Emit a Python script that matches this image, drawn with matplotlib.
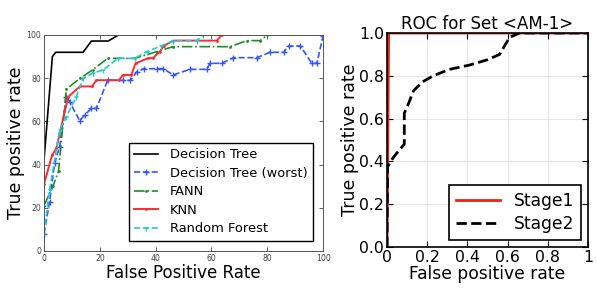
import matplotlib.pyplot as plt
import numpy as np

# left panel: ROC curves of several classifiers (percent)
dt_x = [0, 3, 4.2, 14, 17, 23, 26.7, 100]
dt_y = [42, 90, 92, 92, 97.2, 97.2, 100, 100]

dtw_x = [0, 2, 3.8, 5.6, 8, 9.2, 12.8, 14.6, 17, 18.8, 22.8, 28.4, 31, 33.3, 35.7,
         40.5, 42.8, 46.3, 52.3, 58.3, 59.5, 63.7, 67.9, 76.3, 81, 85.9, 87.7, 91.9,
         96, 97.8, 100]
dtw_y = [8, 22.8, 40.6, 48.3, 71.4, 69, 60.3, 63, 66, 66, 79, 79, 79, 83, 84.4,
         84.4, 84.4, 81.5, 84.1, 84.1, 86.9, 86.9, 89.5, 89.5, 92, 92, 94.9, 94.9,
         86.9, 86.9, 99.5]

fann_x = [0, 3.2, 5.2, 8, 13, 17.6, 22.8, 32.5, 40.4, 46.3, 66.7, 72.7, 77.5, 80, 100]
fann_y = [21, 30, 37, 75, 80, 84, 89.2, 89.2, 92.3, 94.6, 94.6, 97.4, 97.4, 100, 100]

knn_x = [0, 2.9, 4.4, 8.7, 12.9, 17.2, 18.8, 26.9, 28.3, 31.3, 32.8, 37.4, 39, 41.4,
         43, 46.4, 62, 63.7, 100]
knn_y = [31, 44.4, 47.5, 71.4, 76.2, 76.2, 79.1, 79.1, 81.5, 81.5, 86.9, 89.3,
         89.3, 92.2, 95, 97.4, 97.4, 100, 100]

rf_x = [0, 2, 5.6, 8, 11.6, 14, 17.6, 21.2, 26.5, 32.5, 36.8, 41.8, 46.3, 54.7, 57.1, 100]
rf_y = [8, 28.2, 56, 62.2, 71.5, 80, 82.4, 83.8, 89.2, 89.2, 92.3, 94.8, 97.4, 97.4, 100, 100]

# right panel: two-stage ROC
s1_x = [0, 0.008, 1.0]
s1_y = [0, 1.0, 1.0]
s2_x = [0, 0.003, 0.025, 0.058, 0.086, 0.086, 0.107, 0.132, 0.174, 0.23, 0.31, 0.41,
        0.5, 0.56, 0.61, 0.66, 1.0]
s2_y = [0, 0.375, 0.41, 0.45, 0.48, 0.625, 0.67, 0.73, 0.77, 0.80, 0.83, 0.85,
        0.875, 0.90, 0.98, 1.0, 1.0]

fig = plt.figure(figsize=(5.97, 2.89), dpi=100)

ax1 = fig.add_axes([44/597, 1-251/289, 279/597, 216/289])
ax1.plot(dt_x, dt_y, color='black', lw=1.2, label='Decision Tree')
ax1.plot(dtw_x, dtw_y, color='#3355ff', lw=1.2, ls='--', marker='+', ms=4,
         label='Decision Tree (worst)')
ax1.plot(fann_x, fann_y, color='#228b22', lw=1.2, ls='-.', marker='.', ms=2,
         label='FANN')
ax1.plot(knn_x, knn_y, color='#ff2a2a', lw=1.4, marker='.', ms=2, label='KNN')
ax1.plot(rf_x, rf_y, color='#22cccc', lw=1.2, ls='--', marker='1', ms=4,
         label='Random Forest')
ax1.set_xlim(0, 100)
ax1.set_ylim(0, 100)
ax1.set_xticks([0, 20, 40, 60, 80, 100])
ax1.set_yticks([0, 20, 40, 60, 80, 100])
ax1.tick_params(direction='in', labelsize=5.6, colors='#444444', top=True, right=True,
                length=3, width=0.6, pad=2)
for s in ax1.spines.values():
    s.set_color('#555555')
    s.set_linewidth(0.7)
ax1.set_xlabel('False Positive Rate', fontsize=12, labelpad=1)
ax1.set_ylabel('True positive rate', fontsize=12.5, labelpad=1)
leg = ax1.legend(loc='lower right', fontsize=9.4, fancybox=False, framealpha=1,
                 borderaxespad=0.8, handlelength=1.8, labelspacing=0.42,
                 handletextpad=0.9)
leg.get_frame().set_edgecolor('black')

ax2 = fig.add_axes([387/597, 1-247/289, 201/597, 214/289])
ax2.plot(s1_x, s1_y, color='#ee2211', lw=2, label='Stage1')
ax2.plot(s2_x, s2_y, color='black', lw=2, ls='--', label='Stage2')
ax2.set_xlim(0, 1)
ax2.set_ylim(0, 1)
ax2.set_xticks([0, 0.2, 0.4, 0.6, 0.8, 1.0])
ax2.set_xticklabels(['0', '0.2', '0.4', '0.6', '0.8', '1'])
ax2.set_yticks([0, 0.2, 0.4, 0.6, 0.8, 1.0])
ax2.set_yticklabels(['0.0', '0.2', '0.4', '0.6', '0.8', '1.0'])
ax2.grid(True, color='#e6e6e6', lw=0.8)
ax2.set_axisbelow(True)
ax2.tick_params(direction='in', labelsize=11.3, top=True, right=True, length=4, pad=2)
for s in ax2.spines.values():
    s.set_linewidth(1.2)
ax2.set_title('ROC for Set <AM-1>', fontsize=12, pad=3)
ax2.set_xlabel('False positive rate', fontsize=12.3, labelpad=0)
ax2.set_ylabel('True positive rate', fontsize=12.5, labelpad=0)
leg2 = ax2.legend(loc='lower right', fontsize=12.3, fancybox=False, framealpha=1,
                  borderaxespad=0.4, handlelength=2.6, labelspacing=0.3)
leg2.get_frame().set_edgecolor('black')
leg2.get_frame().set_linewidth(1.2)

fig.savefig('out.png', dpi=100)
